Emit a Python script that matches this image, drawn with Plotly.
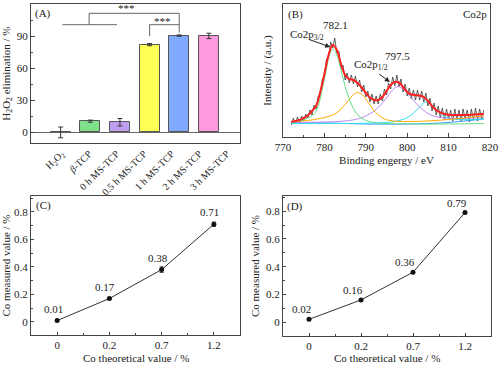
import plotly.graph_objects as go

# ---------------- Panel A data ----------------
bar_pos = [0, 1, 2, 3, 4, 5]
bar_vals = [0, 10.5, 9.5, 82.0, 90.5, 90.2]
bar_err = [5.0, 1.0, 3.5, 1.0, 0.6, 2.5]
bar_colors = ["#7FE08A", "#7FE08A", "#BFA0F0", "#FFFF55", "#80AAFF", "#FF99DD"]
tick_pos_a = [0.02, 0.95, 1.88, 2.81, 3.74, 4.67, 5.60]
tick_text_a = ["H<sub>2</sub>O<sub>2</sub>", "<i>β</i>-TCP", "0 h MS-TCP", "0.5 h MS-TCP",
               "1 h MS-TCP", "2 h MS-TCP", "3 h MS-TCP"]

# ---------------- Panel B data (XPS Co2p) ----------------
raw_be = [772 + 0.5 * i for i in range(94)]
raw_int = [12, 19, 13, 20, 14, 21, 16, 23, 19, 27, 22, 32, 28, 41, 42, 58, 60, 78, 79, 95,
           89, 99, 84, 86, 69, 72, 57, 64, 54, 62, 53, 61, 50, 57, 45, 52, 40, 46, 35, 43,
           33, 41, 33, 43, 36, 48, 42, 54, 48, 60, 51, 62, 50, 58, 45, 53, 41, 49, 38, 47,
           37, 47, 37, 46, 35, 44, 31, 39, 26, 34, 22, 31, 19, 29, 17, 28, 18, 27, 16, 28,
           17, 27, 16, 28, 18, 27, 15, 28, 17, 29, 16, 28, 18, 27]
env_be = [772, 773, 774, 775, 776, 777, 778, 779, 780, 781, 782, 783, 784, 785, 786, 787, 788,
          789, 790, 791, 792, 793, 794, 795, 796, 797, 798, 799, 800, 801, 802, 803, 804, 805,
          806, 807, 808, 809, 810, 812, 814, 816, 818.5]
env_int = [15, 16, 17, 19, 21.5, 26, 31, 45, 63, 82, 92, 87, 73, 62, 58, 57, 54, 49.5, 44,
           39.5, 37, 37, 40, 46, 52, 55, 54.5, 50, 45, 42.5, 42, 41.5, 40, 36, 31, 27, 24.5,
           23, 22.3, 22, 22, 22.4, 23]
g_be = [772, 774, 776, 777.5, 778.5, 779.5, 780.5, 781.3, 782.1, 782.9, 783.7, 784.6, 785.5,
        786.5, 787.5, 788.6, 790, 792, 795, 800, 810, 818.5]
g_int = [14.5, 16, 19, 23, 31, 48, 68, 83, 88, 83, 72, 57, 44, 33, 25, 20, 16.5, 14.5, 13.5,
         13, 13, 13.5]
o_be = [772, 776, 779, 781, 782.5, 784, 785.5, 786.8, 788, 789.2, 790.5, 791.8, 793, 794.5,
        796.5, 800, 805, 810, 815, 818.5]
o_int = [15.5, 16.5, 18.5, 20.5, 23, 28, 35, 41.5, 44.5, 42, 35, 27.5, 22, 18, 16, 15.5, 16,
         17.5, 19.5, 21]
p_be = [772, 780, 785, 788, 790, 792, 794, 795.5, 796.8, 797.8, 798.8, 800, 801.5, 803, 804.5,
        806, 808, 811, 815, 818.5]
p_int = [14.5, 15, 16, 18, 21, 26, 34, 42, 48.5, 50.5, 48.5, 44, 37, 30, 25, 21.5, 19.5, 18.5,
         19, 20]
c_be = [772, 785, 792, 796, 798.5, 800.5, 802.3, 803.7, 804.6, 805.6, 807, 808.5, 810, 812.5,
        816, 818.5]
c_int = [13.5, 13.5, 14, 15, 17, 20.5, 27, 33, 35, 33, 27.5, 22, 19, 17.5, 17.5, 18]
bl_be = [772, 780, 790, 800, 808, 815, 818.5]
bl_int = [14, 14, 13, 13, 14, 16.5, 18]

# ---------------- Panels C / D data ----------------
co_theo = ["0", "0.2", "0.7", "1.2"]
co_pos = [0, 1, 2, 3]
co_meas_c = [0.01, 0.17, 0.38, 0.71]
co_err_c = [0.005, 0.006, 0.02, 0.015]
co_meas_d = [0.02, 0.16, 0.36, 0.79]

FONT = "Liberation Serif"
AX = "#444444"
TXT = "#222222"

fig = go.Figure()

# Panel A
fig.add_trace(go.Bar(x=bar_pos, y=bar_vals, width=0.68,
                     marker=dict(color=bar_colors, line=dict(color="#555555", width=1)),
                     error_y=dict(type="data", array=bar_err, color="#333333", thickness=1, width=2.5),
                     xaxis="x", yaxis="y", showlegend=False))

# Panel B
fig.add_trace(go.Scatter(x=raw_be, y=raw_int, mode="lines", line=dict(color="#3a3a3a", width=0.8),
                         xaxis="x2", yaxis="y2", showlegend=False))
for xs, ys, col in [(bl_be, bl_int, "#3399FF"), (c_be, c_int, "#33DDEE"), (p_be, p_int, "#BB88EE"),
                    (o_be, o_int, "#FFAA00"), (g_be, g_int, "#66DD88")]:
    fig.add_trace(go.Scatter(x=xs, y=ys, mode="lines", line=dict(color=col, width=1, shape="spline"),
                             xaxis="x2", yaxis="y2", showlegend=False))
fig.add_trace(go.Scatter(x=env_be, y=env_int, mode="lines", line=dict(color="#FF2020", width=2, shape="spline"),
                         xaxis="x2", yaxis="y2", showlegend=False))

# Panel C
fig.add_trace(go.Scatter(x=co_pos, y=co_meas_c, mode="lines+markers",
                         line=dict(color="#333333", width=1),
                         marker=dict(color="#111111", size=5),
                         error_y=dict(type="data", array=co_err_c, color="#333333", thickness=1, width=2),
                         xaxis="x3", yaxis="y3", showlegend=False))
# Panel D
fig.add_trace(go.Scatter(x=co_pos, y=co_meas_d, mode="lines+markers",
                         line=dict(color="#333333", width=1),
                         marker=dict(color="#111111", size=5),
                         xaxis="x4", yaxis="y4", showlegend=False))

base_ax = dict(showline=True, linecolor=AX, linewidth=1, mirror=True, showgrid=False, zeroline=False,
               automargin=False, tickfont=dict(family=FONT, size=11, color=TXT),
               title_font=dict(family=FONT, size=11, color=TXT), tickcolor=AX)

fig.update_layout(
    template="none",
    width=500, height=366,
    margin=dict(l=0, r=0, t=0, b=0),
    paper_bgcolor="white", plot_bgcolor="white",
    font=dict(family=FONT, size=11, color=TXT),
    bargap=0,
    xaxis=dict(base_ax, domain=[0.062, 0.48], range=[-1.0, 6.05], tickmode="array",
               tickvals=tick_pos_a, ticktext=tick_text_a, tickangle=-45, ticks="",
               tickfont=dict(family=FONT, size=10, color=TXT), anchor="y"),
    yaxis=dict(base_ax, domain=[0.609, 0.989], range=[-10, 120], tickvals=[0, 30, 60, 90, 120],
               ticks="inside", ticklen=4, minor=dict(ticks="inside", ticklen=2, dtick=15, tickcolor=AX),
               zeroline=True, zerolinecolor="#666666", zerolinewidth=1,
               title=dict(text="H<sub>2</sub>O<sub>2</sub> elimination / %", standoff=4), anchor="x"),
    xaxis2=dict(base_ax, domain=[0.566, 0.98], range=[770, 820], dtick=10, ticks="inside", ticklen=4,
                minor=dict(ticks="inside", ticklen=2, dtick=5, tickcolor=AX),
                title=dict(text="Binding engergy / eV", standoff=4), anchor="y2"),
    yaxis2=dict(base_ax, domain=[0.6257, 0.989], range=[0, 133], showticklabels=False, ticks="",
                title=dict(text="Intensity / (a.u.)", standoff=8), anchor="x2"),
    xaxis3=dict(base_ax, domain=[0.062, 0.48], range=[-0.5, 3.5], tickmode="array", tickvals=co_pos,
                ticktext=co_theo, ticks="inside", ticklen=3,
                minor=dict(ticks="inside", ticklen=2, tickvals=[0.5, 1.5, 2.5], tickcolor=AX),
                anchor="y3"),
    yaxis3=dict(base_ax, domain=[0.0847, 0.4645], range=[-0.095, 0.915], tickvals=[0, 0.2, 0.4, 0.6, 0.8],
                ticks="inside", ticklen=3, minor=dict(ticks="inside", ticklen=2, dtick=0.1, tickcolor=AX),
                title=dict(text="Co measured value / %", standoff=4), anchor="x3"),
    xaxis4=dict(base_ax, domain=[0.566, 0.982], range=[-0.5, 3.5], tickmode="array", tickvals=co_pos,
                ticktext=co_theo, ticks="inside", ticklen=3,
                minor=dict(ticks="inside", ticklen=2, tickvals=[0.5, 1.5, 2.5], tickcolor=AX),
                anchor="y4"),
    yaxis4=dict(base_ax, domain=[0.082, 0.4645], range=[-0.1, 0.91], tickvals=[0, 0.2, 0.4, 0.6, 0.8],
                ticks="inside", ticklen=3, minor=dict(ticks="inside", ticklen=2, dtick=0.1, tickcolor=AX),
                title=dict(text="Co measured value / %", standoff=4), anchor="x4"),
)

# significance brackets (panel A)
br = dict(type="line", xref="x", yref="y", line=dict(color="#666666", width=1))
shapes = [
    dict(br, x0=0.06, x1=1.9, y0=100.7, y1=100.7),
    dict(br, x0=0.96, x1=0.96, y0=100.7, y1=111.3),
    dict(br, x0=0.96, x1=4.0, y0=111.3, y1=111.3),
    dict(br, x0=4.0, x1=4.0, y0=111.3, y1=93.2),
    dict(br, x0=3.0, x1=3.0, y0=90.2, y1=100.7),
    dict(br, x0=3.0, x1=4.0, y0=100.7, y1=100.7),
]
fig.update_layout(shapes=shapes)

ann = []
ann.append(dict(x=-0.58, y=110.7, xref="x", yref="y", text="(A)", showarrow=False, font=dict(size=11)))
ann.append(dict(x=2.23, y=116.5, xref="x", yref="y", text="***", showarrow=False, font=dict(size=11)))
ann.append(dict(x=3.45, y=104.5, xref="x", yref="y", text="***", showarrow=False, font=dict(size=11)))

ann.append(dict(x=773, y=123, xref="x2", yref="y2", text="(B)", showarrow=False))
ann.append(dict(x=816.3, y=123, xref="x2", yref="y2", text="Co2p", showarrow=False))
ann.append(dict(x=782.6, y=112, xref="x2", yref="y2", text="782.1", showarrow=False))
ann.append(dict(x=775.8, y=102.5, xref="x2", yref="y2", text="Co2p<sub>3/2</sub>", showarrow=False))
ann.append(dict(x=797.7, y=81, xref="x2", yref="y2", text="797.5", showarrow=False))
ann.append(dict(x=791.2, y=72, xref="x2", yref="y2", text="Co2p<sub>1/2</sub>", showarrow=False))
ann.append(dict(x=781.4, y=90, ax=776.0, ay=98, xref="x2", yref="y2", axref="x2", ayref="y2",
                text="", showarrow=True, arrowhead=2, arrowsize=1, arrowwidth=1, arrowcolor="#222222"))
ann.append(dict(x=795.8, y=55, ax=792.9, ay=64, xref="x2", yref="y2", axref="x2", ayref="y2",
                text="", showarrow=True, arrowhead=2, arrowsize=1, arrowwidth=1, arrowcolor="#222222"))

ann.append(dict(x=-0.27, y=0.846, xref="x3", yref="y3", text="(C)", showarrow=False))
for xp, v in zip(co_pos, co_meas_c):
    ann.append(dict(x=xp, y=v, xref="x3", yref="y3", text=f"{v:.2f}", showarrow=False,
                    xshift=-4, yshift=12))
ann.append(dict(x=-0.27, y=0.834, xref="x4", yref="y4", text="(D)", showarrow=False))
for xp, v in zip(co_pos, co_meas_d):
    ann.append(dict(x=xp, y=v, xref="x4", yref="y4", text=f"{v:.2f}", showarrow=False,
                    xshift=-8, yshift=10))
# x-axis titles of C and D
ann.append(dict(x=0.5, y=0, xref="x3 domain", yref="paper", yanchor="bottom",
                text="Co theoretical value / %", showarrow=False))
ann.append(dict(x=0.5, y=0, xref="x4 domain", yref="paper", yanchor="bottom",
                text="Co theoretical value / %", showarrow=False))
fig.update_layout(annotations=ann)

fig.write_html("out.html", config={"displayModeBar": False},
               post_script="document.body.style.margin='0';document.body.style.padding='0';")
